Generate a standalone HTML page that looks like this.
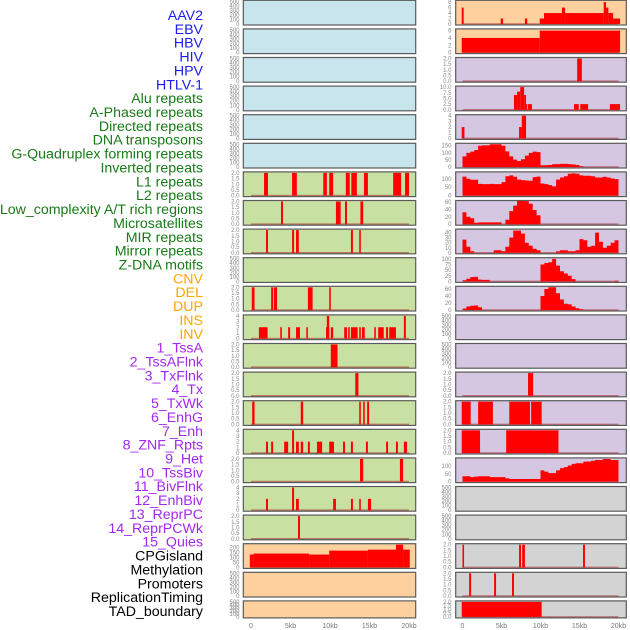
<!DOCTYPE html>
<html><head><meta charset="utf-8"><style>
html,body{margin:0;padding:0;background:#fff;}
svg{display:block;font-family:"Liberation Sans",sans-serif;}
</style></head><body>
<svg id="chart" width="630" height="630" viewBox="0 0 630 630" xmlns="http://www.w3.org/2000/svg">
<g id="labels"></g>
<g id="panels"></g>
<g id="xaxes"></g>
</svg>
<script>
const trackLabels = ["AAV2","EBV","HBV","HIV","HPV","HTLV-1","Alu repeats","A-Phased repeats","Directed repeats","DNA transposons","G-Quadruplex forming repeats","Inverted repeats","L1 repeats","L2 repeats","Low_complexity A/T rich regions","Microsatellites","MIR repeats","Mirror repeats","Z-DNA motifs","CNV","DEL","DUP","INS","INV","1_TssA","2_TssAFlnk","3_TxFlnk","4_Tx","5_TxWk","6_EnhG","7_Enh","8_ZNF_Rpts","9_Het","10_TssBiv","11_BivFlnk","12_EnhBiv","13_ReprPC","14_ReprPCWk","15_Quies","CPGisland","Methylation","Promoters","ReplicationTiming","TAD_boundary"];
const labelGroups = ["virus","virus","virus","virus","virus","virus","repeat","repeat","repeat","repeat","repeat","repeat","repeat","repeat","repeat","repeat","repeat","repeat","repeat","sv","sv","sv","sv","sv","chrom","chrom","chrom","chrom","chrom","chrom","chrom","chrom","chrom","chrom","chrom","chrom","chrom","chrom","chrom","other","other","other","other","other"];
const xTickValues = [0,5,10,15,20];
const xTickLabels = ["0","5kb","10kb","15kb","20kb"];

const leftBg = ["blue","blue","blue","blue","blue","blue","green","green","green","green","green","green","green","green","green","green","green","green","green","orange","orange","orange"];
const rightBg = ["orange","orange","purple","purple","purple","purple","purple","purple","purple","purple","purple","purple","purple","purple","purple","purple","purple","gray","gray","gray","gray","gray"];
const leftDomain = [500,500,500,500,500,500,2,2,2,500,2,4,2,2,2,4,2,4,2,230,500,500];
const rightDomain = [8.3,6.2,2,10,4,160,135,61,45,101,65,500,500,2,2,2,147,500,500,2,2,2];
const leftTicks = [[0,100,200,300,400,500],[0,100,200,300,400,500],[0,100,200,300,400,500],[0,100,200,300,400,500],[0,100,200,300,400,500],[0,100,200,300,400,500],[0,0.5,1,1.5,2],[0,0.5,1,1.5,2],[0,0.5,1,1.5,2],[0,100,200,300,400,500],[0,0.5,1,1.5,2],[0,1,2,3,4],[0,0.5,1,1.5,2],[0,0.5,1,1.5,2],[0,0.5,1,1.5,2],[0,1,2,3,4],[0,0.5,1,1.5,2],[0,1,2,3,4],[0,0.5,1,1.5,2],[0,50,100,150,200],[0,100,200,300,400,500],[0,100,200,300,400,500]];
const rightTicks = [[0,2,4,6,8],[0,2,4,6],[0,0.5,1,1.5,2],[0,2.5,5,7.5,10],[0,1,2,3,4],[0,50,100,150],[0,50,100],[0,20,40,60],[0,10,20,30,40],[0,25,50,75,100],[0,20,40,60],[0,100,200,300,400,500],[0,100,200,300,400,500],[0,0.5,1,1.5,2],[0,0.5,1,1.5,2],[0,0.5,1,1.5,2],[0,50,100],[0,100,200,300,400,500],[0,100,200,300,400,500],[0,0.5,1,1.5,2],[0,0.5,1,1.5,2],[0,0.5,1,1.5,2]];

// interval data: [startKb, endKb, value]
const L1Bars = [[1.65,2.15,2],[5.2,5.8,2],[9.15,9.6,2],[9.9,10.4,2],[12.0,12.5,2],[12.7,13.4,2],[14.3,14.8,2],[18.0,19.0,2],[19.5,20.0,2]];
const L2Bars = [[3.8,4.05,2],[10.75,11.35,2],[11.9,12.15,2],[13.85,14.2,2]];
const MicroBars = [[1.9,2.15,2],[5.2,5.45,2],[5.7,6.05,2],[12.65,12.9,2],[13.7,13.9,2]];
const DelBars = [[0.1,0.45,2],[2.55,2.8,2],[2.9,3.3,2],[7.2,7.8,2],[9.9,10.1,2]];
const InsBars = [[1.0,2.1,2],[3.7,3.9,2],[4.7,4.95,2],[5.7,6.2,2],[7.0,7.2,2],[9.5,9.9,2],[9.6,9.9,4],[10.1,10.4,2],[11.8,12.15,2],[12.3,12.5,2],[12.65,13.5,2],[13.7,13.9,2],[14.05,14.4,2],[15.6,15.8,2],[16.1,16.8,2],[17.1,17.35,2],[17.5,18.35,2],[19.35,19.6,4]];
const TssABars = [[10.1,10.95,2]];
const TxFlnkBars = [[13.2,13.6,2]];
const TxWkBars = [[0.15,0.45,2],[6.3,6.6,2],[13.7,13.9,2],[14.2,14.4,2],[14.7,14.95,2]];
const EnhBars = [[1.9,2.15,2],[2.55,2.8,2],[4.2,4.7,2],[5.2,5.45,4],[5.7,6.05,2],[6.3,6.6,2],[7.2,7.45,2],[8.35,9.0,2],[9.9,10.5,2],[11.65,11.9,2],[12.65,12.9,2],[14.55,14.8,2],[17.1,17.35,2],[18.35,18.6,2],[19.35,19.75,2]];
const HetBars = [[13.8,14.2,2],[18.85,19.25,2]];
const EnhBivBars = [[1.9,2.15,2],[5.2,5.45,4],[5.7,6.05,2],[10.4,10.75,2],[12.65,12.9,2],[13.7,13.9,2],[14.8,15.2,2]];
const ReprPCBars = [[5.95,6.2,2]];
const CpgBars = [[-0.15,0.3,130],[0.3,7.35,140],[7.35,9.9,130],[9.9,14.8,170],[14.8,18.35,180],[18.35,19.25,230],[19.25,20.1,180]];
const AAV2Bars = [[-0.1,0.15,6],[4.9,5.2,2],[8.0,8.3,2],[9.9,10.45,2],[10.45,12.75,4],[12.75,13.15,6],[13.15,18.1,4],[18.1,18.4,8],[18.4,18.7,6],[18.7,19.3,4],[19.3,20.2,2]];
const HBVBars = [[-0.1,9.9,4],[9.9,20.2,6]];
const HPVBars = [[14.7,15.3,2]];
const AluBars = [[6.6,7.0,6.5],[7.0,7.4,8],[7.4,7.9,10],[7.9,8.15,6.5],[8.15,8.3,2.5],[8.4,8.9,2.5],[14.3,14.9,2.5],[15.1,16.1,2.5],[18.9,20.2,2.5]];
const APhasedBars = [[-0.1,0.25,2],[7.25,7.6,2],[7.6,8.15,4]];
const TxBars = [[8.4,9.05,2]];
const TxWkRBars = [[-0.1,1.05,2],[2.0,3.9,2],[6.0,8.65,2],[8.8,10.15,2]];
const EnhGRBars = [[-0.1,2.25,2],[5.6,12.3,2]];
const PromoterBars = [[0,0.2,2],[7.25,7.5,2],[7.65,8.0,2],[15.45,15.7,2]];
const ReplBars = [[0.85,1.1,2],[4.05,4.3,2],[6.35,6.6,2]];
const TadBars = [[-0.1,10.15,2]];

// binned profiles, 0.5kb bins from 0 to 20kb
const GQuadProfile = [75,100,108,120,150,152,152,160,160,160,150,110,75,52,42,55,80,100,108,105,12,12,14,20,20,22,22,20,18,14,5,0,0,0,0,0,0,0,0,0];
const InvertedProfile = [113,100,94,94,70,68,68,70,68,68,80,115,120,112,95,92,90,88,110,113,72,68,62,55,95,108,115,130,132,130,120,118,118,115,108,108,112,108,102,98];
const LowComplexProfile = [32,20,16,4,5,5,5,5,5,5,0,12,35,50,63,63,62,55,38,24,0,0,0,0,0,0,0,0,0,0,0,0,0,0,0,0,0,0,0,0];
const MIRProfile = [26,12,3,0,0,0,0,0,5,5,3,12,30,44,44,38,20,14,8,5,0,0,0,0,3,5,5,3,3,5,27,25,12,14,40,22,10,14,20,25];
const ZDNAProfile = [5,12,19,20,8,7,7,0,0,0,0,0,0,0,0,0,0,0,0,0,75,82,85,100,70,45,35,25,10,0,0,0,0,0,0,0,0,0,0,3];
const DelProfile = [4,10,12,13,8,0,0,0,0,0,0,0,0,0,0,0,0,0,0,0,40,60,65,65,48,30,18,16,10,5,2,0,0,0,0,0,0,0,0,0];
const HetProfile = [35,35,29,32,35,35,35,29,29,29,29,21,17,17,17,17,17,17,17,17,73,65,55,55,73,87,94,104,115,119,119,129,130,135,140,140,146,146,140,140];

const leftData = [null,null,null,null,null,null,L1Bars,L2Bars,MicroBars,null,DelBars,InsBars,TssABars,TxFlnkBars,TxWkBars,EnhBars,HetBars,EnhBivBars,ReprPCBars,CpgBars,null,null];
const rightData = [AAV2Bars,HBVBars,HPVBars,AluBars,APhasedBars,GQuadProfile,InvertedProfile,LowComplexProfile,MIRProfile,ZDNAProfile,DelProfile,null,null,TxBars,TxWkRBars,EnhGRBars,HetProfile,null,null,PromoterBars,ReplBars,TadBars];

const NS = "http://www.w3.org/2000/svg";
const bgColors = {blue:"#c8e4ec",green:"#c8e1a3",orange:"#fed09e",purple:"#d5c6e1",gray:"#d3d3d3"};
const labelColors = {virus:"#1c1cee",repeat:"#187a18",sv:"#ffa500",chrom:"#a328ef",other:"#000"};
function mk(tag, attrs, parent){const e=document.createElementNS(NS,tag);for(const k in attrs)e.setAttribute(k,attrs[k]);parent.appendChild(e);return e;}

const labelsG = document.getElementById('labels');
trackLabels.forEach((t,i)=>{
  const e = mk('text',{x:203,y:15+13.86*i+5,'text-anchor':'end','font-size':'14.2',fill:labelColors[labelGroups[i]]},labelsG);
  
  
  e.textContent = t;
});

const cols = [
  {x0:243.3,x1:415.7,zero:251,twenty:409,tickX:239.5,bg:leftBg,dom:leftDomain,ticks:leftTicks,data:leftData,side:'left'},
  {x0:455.7,x1:626.3,zero:462.5,twenty:618.5,tickX:451.5,bg:rightBg,dom:rightDomain,ticks:rightTicks,data:rightData,side:'right'}
];
const panelsG = document.getElementById('panels');
cols.forEach(c=>{
  const xs = kb => c.zero + (c.twenty-c.zero)*kb/20;
  const hasDec = r => c.ticks[r].some(x=>x%1!==0);
  for(let r=0;r<22;r++){
    const top = 0.3+28.6*r, bot = top + (r===21 ? 17 : 24.7);
    const g = mk('g',{},panelsG);
    
    
    const ys = v => (bot-1) - v*((bot-1)-(top+1))/c.dom[r];
    const bgR = mk('rect',{x:c.x0,y:top,width:c.x1-c.x0,height:bot-top,fill:bgColors[c.bg[r]]},g);
    
    
    c.ticks[r].forEach(v=>{
      const t = mk('text',{x:c.tickX,y:ys(v)+2,'text-anchor':'end','font-size':'6',fill:'#888'},g);
      
      
      t.textContent = hasDec(r) ? v.toFixed(1) : String(v);
    });
    const d = c.data[r];
    if(d){
      const base = mk('line',{x1:xs(0),x2:xs(20),y1:ys(0),y2:ys(0),stroke:'rgba(170,40,40,0.55)','stroke-width':1.6},g);
      
      
      if(typeof d[0]==='number'){
        let p = 'M'+xs(0)+','+ys(0);
        d.forEach((v,i)=>{p+=' L'+xs(i*0.5)+','+ys(v)+' L'+xs(i*0.5+0.5)+','+ys(v);});
        p += ' L'+xs(20)+','+ys(0)+' Z';
        const a = mk('path',{d:p,fill:'#ff0000'},g);
        
        
      } else {
        d.forEach(b=>{
          const x1 = xs(b[0]), x2 = xs(b[1]);
          const rr = mk('rect',{x:x1,y:ys(b[2]),width:Math.max(1.2,x2-x1),height:ys(0)-ys(b[2]),fill:'#ff0000'},g);
          
          
        });
      }
    }
    const br = mk('rect',{x:c.x0,y:top,width:c.x1-c.x0,height:bot-top,fill:'none',stroke:'#5a5a5a','stroke-width':1.2},g);
    
    
  }
});

const xg = document.getElementById('xaxes');
cols.forEach(c=>{
  const xs = kb => c.zero + (c.twenty-c.zero)*kb/20;
  xTickValues.forEach((v,i)=>{
    const t = mk('text',{x:xs(v),y:628,'text-anchor':'middle','font-size':'7',fill:'#777'},xg);
    
    
    t.textContent = xTickLabels[i];
  });
});
</script>
</body></html>
